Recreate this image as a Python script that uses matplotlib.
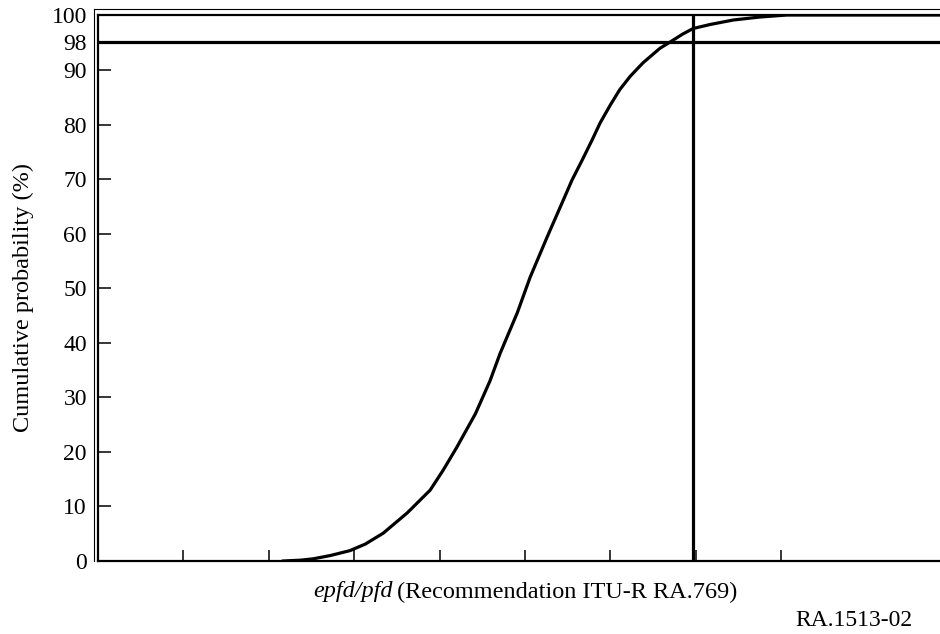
import numpy as np
import matplotlib.pyplot as plt

# cumulative distribution of epfd/pfd (x in tick units, y in %)
x_vals = [2.17, 2.37, 2.52, 2.72, 2.95, 3.13, 3.34, 3.62, 3.89, 4.04,
          4.20, 4.42, 4.59, 4.71, 4.91, 5.06, 5.26, 5.45, 5.55, 5.68,
          5.79, 5.88, 6.00, 6.11, 6.23, 6.38, 6.58, 6.70, 6.85, 6.97,
          7.17, 7.44, 7.75, 8.07, 9.86]
cum_prob = [0, 0.15, 0.4, 1.0, 1.9, 3.1, 5.1, 8.8, 13.0, 16.6,
            20.8, 27.0, 33.0, 38.1, 45.5, 52.0, 59.4, 66.2, 69.8, 73.8,
            77.3, 80.3, 83.6, 86.4, 88.8, 92.0, 96.2, 98.0, 98.6, 99.0,
            99.3, 99.63, 99.85, 100, 100]

y_ticks = [0, 10, 20, 30, 40, 50, 60, 70, 80, 90, 98, 100]
x_ticks = [1, 2, 3, 4, 5, 6, 7, 8]
threshold_y = 98
threshold_x = 6.97

# piecewise axis: linear to 90, then 90-98 and 98-100 get equal space
y_knots = [0, 90, 98, 100]
y_pos = [0, 90, 95.13, 100.08]


def fwd(y):
    return np.interp(y, y_knots, y_pos)


def inv(y):
    return np.interp(y, y_pos, y_knots)


plt.rcParams['font.family'] = ['Liberation Serif', 'DejaVu Serif']

fig = plt.figure(figsize=(9.4, 6.34), dpi=100)
W, H = 940, 634

# thin outer frame line (left and top)
frame = fig.add_axes([94 / W, (H - 561) / H, (W - 94) / W, (561 - 9) / H])
frame.set_xticks([])
frame.set_yticks([])
for s in ['right', 'bottom']:
    frame.spines[s].set_visible(False)
for s in ['left', 'top']:
    frame.spines[s].set_linewidth(0.8)

ax = fig.add_axes([98 / W, (H - 561) / H, (W - 98) / W, (561 - 15) / H])
ax.set_yscale('function', functions=(fwd, inv))
ax.plot(x_vals, cum_prob, color='black', lw=2.3, solid_joinstyle='round')
ax.axhline(threshold_y, color='black', lw=2.3)
ax.axvline(threshold_x, color='black', lw=2.3)

ax.set_xlim(0, 9.86)
ax.set_ylim(0, 100)
ax.set_xticks(x_ticks)
ax.set_xticklabels([])
ax.set_yticks(y_ticks)
ax.set_yticklabels([str(t) for t in y_ticks], fontsize=17)
ax.tick_params(axis='x', direction='in', length=8, width=1.1, color='black')
ax.tick_params(axis='y', direction='in', length=9.5, width=1.1, color='black', pad=8)
ax.spines['right'].set_visible(False)
for s in ['left', 'top', 'bottom']:
    ax.spines[s].set_linewidth(1.6)

fig.text(23 / W, 1 - 298 / H, 'Cumulative probability (%)', fontsize=17.5,
         rotation=90, ha='center', va='center')

fig.text(393 / W, 1 - 592 / H, 'epfd/pfd', fontsize=17.5, style='italic',
         ha='right', va='center')
fig.text(397 / W, 1 - 592 / H, '(Recommendation ITU-R RA.769)', fontsize=17.5,
         ha='left', va='center')
fig.text(795 / W, 1 - 620 / H, 'RA.1513-02', fontsize=17, ha='left', va='center')

fig.savefig('out.png', dpi=100)
